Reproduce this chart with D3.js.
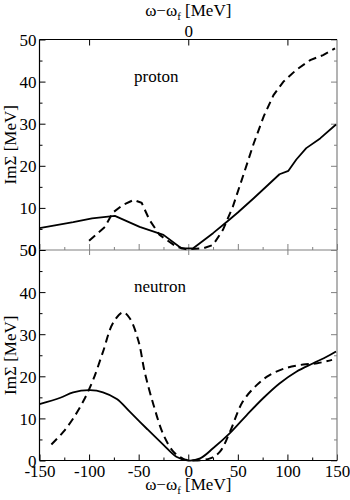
<!DOCTYPE html>
<html>
<head>
<meta charset="utf-8">
<script src="https://d3js.org/d3.v7.min.js"></script>
<style>
  body { margin: 0; background: #fff; }
  svg { display: block; }
</style>
</head>
<body>
<svg id="chart" width="350" height="500"></svg>
<script>
// proton panel (top)
const protonSolidX = [-150, -116, -97, -74, -49, -25, -7, 5, 25, 39, 50, 66, 82, 92, 101, 109, 119, 133, 149];
const protonSolidY = [5.2, 6.6, 7.5, 8.1, 5.5, 3.6, 0.4, 0.4, 4.0, 6.7, 8.9, 12.3, 15.8, 18.0, 18.8, 21.5, 24.2, 26.5, 29.8];
const protonDashX = [-100, -84, -76, -66, -55, -47, -39, -29, -12, -2, 15, 25, 35, 45, 55, 66, 76, 86, 96, 109, 123, 136, 148];
const protonDashY = [2.2, 5.5, 8.9, 10.7, 11.9, 11.2, 7.1, 3.6, 0.8, 0.2, 0.4, 1.2, 4.8, 10.3, 17.4, 25.3, 31.7, 36.8, 40.0, 42.8, 45.1, 46.3, 47.9];

// neutron panel (bottom)
const neutronSolidX = [-150, -129, -116, -99, -86, -72, -59, -42, -25, -12, 0, 12, 25, 42, 59, 76, 92, 109, 126, 140, 149];
const neutronSolidY = [13.4, 14.9, 16.2, 16.7, 16.2, 14.6, 11.6, 7.6, 3.7, 0.9, 0, 0.5, 2.9, 6.5, 10.8, 14.9, 18.3, 21.1, 23.1, 24.7, 25.9];
const neutronDashX = [-138, -126, -116, -106, -96, -86, -76, -66, -59, -50, -44, -35, -25, -15, -5, 5, 22, 32, 42, 55, 69, 82, 99, 116, 130, 145];
const neutronDashY = [3.8, 6.8, 10.0, 14.0, 19.1, 25.8, 32.6, 35.2, 33.8, 28.2, 21.1, 13.2, 6.1, 2.1, 0.4, 0, 0.5, 2.1, 6.8, 14.0, 17.9, 20.3, 22.0, 22.8, 23.1, 23.9];

const xTicksMajor = [-150, -100, -50, 0, 50, 100, 150];
const xTicksMinor = [-125, -75, -25, 25, 75, 125];
const yTicksMajor = [0, 10, 20, 30, 40, 50];
const yTicksMinor = [5, 15, 25, 35, 45];
const topAxisTicks = [-100, 0, 100];

const FONT = '"Liberation Serif", "Times New Roman", serif';
const svg = d3.select('#chart');
const left = 39.5, right = 337;
const x = d3.scaleLinear().domain([-150, 150]).range([left, right]);
const yTop = d3.scaleLinear().domain([0, 50]).range([250, 39.5]);
const yBot = d3.scaleLinear().domain([0, 50]).range([460.5, 250]);
const grey = '#808080';

function styleAxis(g, color) {
  g.select('.domain').remove();
  g.selectAll('.tick line').attr('stroke', color).attr('stroke-width', 1);
  g.selectAll('.tick text').attr('fill', '#000').style('font-size', '17px');
}

function panel(y, solidX, solidY, dashX, dashY, name, nameY, bottomLabels, curve) {
  // left axis, inward ticks
  const gl = svg.append('g').attr('transform', `translate(${left},0)`);
  gl.call(d3.axisLeft(y).tickValues(yTicksMajor).tickSizeInner(-6).tickSizeOuter(0).tickFormat(d3.format('d')));
  styleAxis(gl, '#000');
  gl.selectAll('.tick text').attr('x', -3).attr('dy', '0.35em');
  const glm = svg.append('g').attr('transform', `translate(${left},0)`);
  glm.call(d3.axisLeft(y).tickValues(yTicksMinor).tickSizeInner(-3).tickSizeOuter(0).tickFormat(''));
  styleAxis(glm, '#000');

  // right axis
  const gr = svg.append('g').attr('transform', `translate(${right},0)`);
  gr.call(d3.axisRight(y).tickValues(yTicksMajor).tickSizeInner(-6).tickSizeOuter(0).tickFormat(''));
  styleAxis(gr, grey);
  const grm = svg.append('g').attr('transform', `translate(${right},0)`);
  grm.call(d3.axisRight(y).tickValues(yTicksMinor).tickSizeInner(-3).tickSizeOuter(0).tickFormat(''));
  styleAxis(grm, grey);

  // bottom axis, ticks pointing up
  const y0 = y(0);
  const gb = svg.append('g').attr('transform', `translate(0,${y0})`);
  gb.call(d3.axisBottom(x).tickValues(xTicksMajor).tickSizeInner(-6).tickSizeOuter(0)
    .tickFormat(bottomLabels ? d => String(d) : ''));
  styleAxis(gb, bottomLabels ? '#000' : grey);
  gb.selectAll('.tick text').attr('y', 4).attr('dy', '0.71em');
  const gbm = svg.append('g').attr('transform', `translate(0,${y0})`);
  gbm.call(d3.axisBottom(x).tickValues(xTicksMinor).tickSizeInner(-3).tickSizeOuter(0).tickFormat(''));
  styleAxis(gbm, bottomLabels ? '#000' : grey);

  // frame
  const y50 = y(50);
  svg.append('line').attr('x1', left).attr('x2', left).attr('y1', y50).attr('y2', y0).attr('stroke', '#000').attr('stroke-width', 1.2);
  svg.append('line').attr('x1', right).attr('x2', right).attr('y1', y50).attr('y2', y0).attr('stroke', grey).attr('stroke-width', 1.2);
  svg.append('line').attr('x1', left).attr('x2', right).attr('y1', y0).attr('y2', y0)
    .attr('stroke', bottomLabels ? '#000' : grey).attr('stroke-width', 1.2);

  const line = d3.line().x(d => x(d[0])).y(d => y(d[1])).curve(curve);
  svg.append('path').datum(d3.zip(solidX, solidY)).attr('d', line)
    .attr('fill', 'none').attr('stroke', '#000').attr('stroke-width', 1.8).attr('stroke-linejoin', 'round');
  svg.append('path').datum(d3.zip(dashX, dashY)).attr('d', line)
    .attr('fill', 'none').attr('stroke', '#000').attr('stroke-width', 2).attr('stroke-dasharray', '8,5');

  svg.append('text').attr('x', 134).attr('y', nameY).style('font-size', '17px').text(name);

  // y label
  svg.append('text').attr('transform', `translate(16,${(y50 + y0) / 2}) rotate(-90)`)
    .attr('text-anchor', 'middle').style('font-size', '17px').text('ImΣ [MeV]');
}

panel(yTop, protonSolidX, protonSolidY, protonDashX, protonDashY, 'proton', 82, false, d3.curveLinear);
panel(yBot, neutronSolidX, neutronSolidY, neutronDashX, neutronDashY, 'neutron', 292, true, d3.curveCatmullRom);

// top frame + top axis
svg.append('line').attr('x1', left).attr('x2', right).attr('y1', 39.5).attr('y2', 39.5).attr('stroke', '#000').attr('stroke-width', 1.2);
const gt = svg.append('g').attr('transform', 'translate(0,39.5)');
gt.call(d3.axisTop(x).tickValues(topAxisTicks).tickSizeInner(-6).tickSizeOuter(0).tickFormat(d => d === 0 ? '0' : ''));
styleAxis(gt, '#000');
gt.selectAll('.tick text').attr('y', -3);

// bottom panel top ticks
const gt2 = svg.append('g').attr('transform', 'translate(0,250)');
gt2.call(d3.axisTop(x).tickValues(topAxisTicks).tickSizeInner(-5).tickSizeOuter(0).tickFormat(''));
styleAxis(gt2, grey);

// axis titles
function xTitle(yPos) {
  const t = svg.append('text').attr('x', x(0)).attr('y', yPos).attr('text-anchor', 'middle').style('font-size', '17px');
  t.append('tspan').text('ω−ω');
  t.append('tspan').style('font-size', '11px').attr('dy', 4).text('f');
  t.append('tspan').attr('dy', -4).text(' [MeV]');
}
xTitle(16);
xTitle(490);

svg.selectAll('text').style('font-family', FONT);
</script>
</body>
</html>
